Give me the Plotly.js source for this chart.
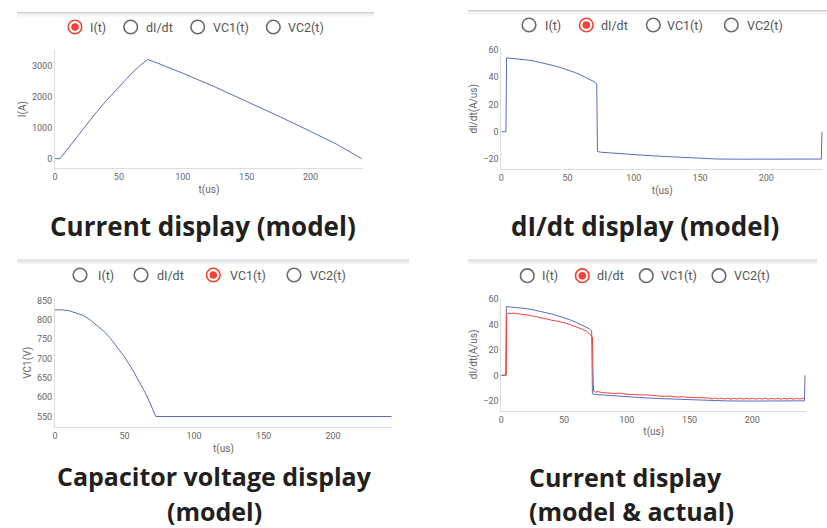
<!DOCTYPE html>
<html>
<head>
<meta charset="utf-8">
<script src="https://cdn.plot.ly/plotly-3.0.1.min.js"></script>
<style>html,body{margin:0;padding:0;background:#fff;}#chart{width:827px;height:528px;}</style>
</head>
<body>
<div id="chart"></div>
<script>
// ---------- data ----------
// Panel 1: current I(t) (model)
const currentT = [0, 4, 10, 20, 30, 40, 50, 60, 66, 72.5, 80, 100, 125, 150, 175, 200, 220, 240];
const currentA = [0, 0, 322, 853, 1375, 1870, 2330, 2755, 2990, 3205, 3090, 2760, 2320, 1860, 1375, 880, 475, 0];

// Panel 2 / 4: dI/dt model
const didtT = [0, 3.5, 4, 10, 15, 20, 25, 30, 35, 40, 45, 50, 55, 60, 65, 70, 72, 72.6, 75, 80, 90, 100, 110, 125, 140, 150, 163, 164, 180, 200, 220, 240, 241.5, 242];
const didtModel = [0, 0, 54, 53.5, 53.1, 52.4, 51.6, 50.6, 49.5, 48.2, 46.8, 45.3, 43.5, 41.5, 39.3, 36.6, 35.0, -14.5, -15, -15.4, -16.2, -16.8, -17.4, -18.2, -18.8, -19.3, -19.6, -20.0, -20.1, -20.2, -20.1, -20.0, -20.0, 0];

// Panel 3: capacitor voltage VC1(t)
const vcT = [0, 5, 10, 15, 20, 25, 30, 35, 40, 45, 50, 55, 60, 65, 67.5, 70, 72.5, 242];
const vcV = [826, 826, 824, 819, 812, 801, 787, 771, 752, 729, 704, 676, 645, 611, 592, 573, 550, 550];

// Panel 4: dI/dt actual (measured)
const actualT = [0, 3.5, 4, 4.2, 5, 8, 10, 12, 15, 18, 20, 22, 25, 28, 30, 33, 35, 38, 40, 43, 45, 48, 50, 53, 55, 58, 60, 63, 65, 68, 70, 72, 72.6, 73.2, 73.6, 75, 77, 80, 85, 90, 95, 100, 105, 110, 115, 120, 125, 130, 135, 140, 145, 150, 155, 160, 163, 165, 168, 170, 173, 175, 178, 180, 183, 185, 188, 190, 193, 195, 198, 200, 203, 205, 208, 210, 213, 215, 218, 220, 223, 225, 228, 230, 233, 235, 238, 240, 242];
const actualV = [0, 0, 0.3, 47.5, 48.8, 48.6, 48.9, 48.5, 48.2, 47.9, 47.4, 47.3, 46.5, 46.3, 45.5, 45.2, 44.5, 44.0, 43.3, 42.9, 42.3, 41.7, 41.3, 40.5, 39.8, 39.0, 38.0, 37.2, 36.0, 34.6, 32.8, 30.8, 30.2, -5, -12.5, -13.2, -12.8, -13.5, -13.9, -14.2, -14.0, -14.8, -15.0, -15.4, -15.2, -15.9, -16.2, -16.5, -16.3, -17.0, -16.9, -17.4, -17.6, -17.8, -18.1, -17.7, -18.6, -17.9, -18.5, -17.9, -18.6, -18.0, -18.7, -18.0, -18.6, -18.0, -18.7, -18.1, -18.6, -18.0, -18.7, -18.1, -18.6, -18.0, -18.7, -18.1, -18.6, -18.0, -18.7, -18.1, -18.6, -18.0, -18.7, -18.1, -18.6, -18.0, -18.2];

const radioLabels = ['I(t)', 'dI/dt', 'VC1(t)', 'VC2(t)'];
const xTitle = 't(us)';
const yTitles = ['I(A)', 'dI/dt(A/us)', 'VC1(V)', 'dI/dt(A/us)'];
const captionLines = ['Current display (model)', 'dI/dt display (model)', 'Capacitor voltage display', '(model)', 'Current display', '(model & actual)'];

// ---------- layout helpers ----------
const W = 827, H = 528;
const px = v => v / W;
const py = v => 1 - v / H;
const BLUE = '#5c6bc0';
const RED = '#f44336';
const SEL = '#f44336';
const GREY = '#6a6a6a';

function axisBase(extra) {
  return Object.assign({
    showline: true, linecolor: '#dddddd', linewidth: 1,
    showgrid: false, zeroline: false, ticks: '',
    tickfont: {family: 'Roboto, sans-serif', size: 9, color: '#666'},
    fixedrange: true
  }, extra);
}
function titleObj(t, standoff) {
  return {text: t, font: {family: 'Roboto, sans-serif', size: 10, color: '#666'}, standoff: standoff};
}

const panels = [
  {x0: 55, x1: 363, yTop: 50, yBot: 168.3, xr: [0, 241], yr: [-310, 3510], dy: 1000},
  {x0: 501.3, x1: 823.3, yTop: 48.3, yBot: 169.3, xr: [0, 243], yr: [-27.5, 61], dy: 20},
  {x0: 55, x1: 392, yTop: 298.3, yBot: 427.3, xr: [0, 242.4], yr: [522, 856], dy: 50},
  {x0: 501.3, x1: 806.3, yTop: 297.7, yBot: 411, xr: [0, 243], yr: [-28, 61], dy: 20}
];

const layout = {
  width: W, height: H,
  margin: {l: 0, r: 0, t: 0, b: 0, pad: 0},
  paper_bgcolor: '#ffffff', plot_bgcolor: '#ffffff',
  showlegend: false,
  font: {family: 'Roboto, sans-serif', color: '#666'},
  shapes: [], annotations: []
};

panels.forEach((p, i) => {
  const n = i === 0 ? '' : String(i + 1);
  layout['xaxis' + n] = axisBase({
    domain: [px(p.x0), px(p.x1)], range: p.xr, dtick: 50, tick0: 0,
    anchor: 'y' + n, title: titleObj(xTitle, 4)
  });
  layout['yaxis' + n] = axisBase({
    domain: [py(p.yBot), py(p.yTop)], range: p.yr, dtick: p.dy, tick0: 0,
    anchor: 'x' + n, title: titleObj(yTitles[i], 3)
  });
});

// top shadow bars of each card
[[17, 374, 12], [468, 827, 10], [17, 409, 259.5], [468, 817, 259.5]].forEach(b => {
  [[0, 1, '#cfcfcf'], [1, 2.5, '#e4e4e4'], [2.5, 4.5, '#f3f3f3']].forEach(s => {
    layout.shapes.push({type: 'rect', xref: 'paper', yref: 'paper', layer: 'below',
      x0: px(b[0]), x1: px(b[1]), y0: py(b[2] + s[0]), y1: py(b[2] + s[1]),
      line: {width: 0}, fillcolor: s[2]});
  });
});

// radio button rows
const radios = [
  {y: 27, c: [75, 130.7, 197.7, 273.3], l: [88, 144, 210.7, 286], sel: 0},
  {y: 25, c: [529, 586.3, 653.3, 731.3], l: [542.7, 599.3, 664.7, 744.7], sel: 1},
  {y: 275, c: [80, 141, 213.3, 294], l: [95.7, 155.3, 227.7, 308.3], sel: 2},
  {y: 275.7, c: [527.3, 582.3, 646.3, 719], l: [540, 594.7, 659, 731.7], sel: 1}
];
radios.forEach(r => {
  radioLabels.forEach((lab, k) => {
    const on = k === r.sel;
    const R = 6.8;
    layout.shapes.push({type: 'circle', xref: 'paper', yref: 'paper',
      x0: px(r.c[k] - R), x1: px(r.c[k] + R), y0: py(r.y + R), y1: py(r.y - R),
      line: {color: on ? SEL : GREY, width: 1.6}, fillcolor: 'rgba(0,0,0,0)'});
    if (on) {
      const r2 = 3.8;
      layout.shapes.push({type: 'circle', xref: 'paper', yref: 'paper',
        x0: px(r.c[k] - r2), x1: px(r.c[k] + r2), y0: py(r.y + r2), y1: py(r.y - r2),
        line: {width: 0}, fillcolor: SEL});
    }
    layout.annotations.push({xref: 'paper', yref: 'paper', x: px(r.l[k]), y: py(r.y),
      xanchor: 'left', yanchor: 'middle', showarrow: false, text: lab,
      font: {family: 'Roboto, sans-serif', size: 12.5, color: '#555'}});
  });
});

// captions: one annotation per line
const capPos = [
  [202.5, 226, 'center', 26], [644.5, 226, 'center', 26],
  [214, 476, 'center', 25], [214, 510.5, 'center', 25],
  [527, 477, 'left', 25], [527, 510.5, 'left', 25]
];
captionLines.forEach((c, i) => {
  const p = capPos[i];
  layout.annotations.push({xref: 'paper', yref: 'paper', x: px(p[0]), y: py(p[1]),
    xanchor: p[2], yanchor: 'middle', showarrow: false, text: '<b>' + c.replace('&', '&amp;') + '</b>',
    font: {family: '"Open Sans", sans-serif', size: p[3], color: '#231f20'}});
});

const line = c => ({color: c, width: 1});
const traces = [
  {x: currentT, y: currentA, xaxis: 'x', yaxis: 'y', mode: 'lines', line: line(BLUE), name: 'I(t)'},
  {x: didtT, y: didtModel, xaxis: 'x2', yaxis: 'y2', mode: 'lines', line: line(BLUE), name: 'dI/dt model'},
  {x: vcT, y: vcV, xaxis: 'x3', yaxis: 'y3', mode: 'lines', line: line(BLUE), name: 'VC1(t)'},
  {x: didtT, y: didtModel, xaxis: 'x4', yaxis: 'y4', mode: 'lines', line: line(BLUE), name: 'dI/dt model'},
  {x: actualT, y: actualV, xaxis: 'x4', yaxis: 'y4', mode: 'lines', line: line(RED), name: 'dI/dt actual'}
];

Plotly.newPlot('chart', traces, layout, {staticPlot: true, displayModeBar: false});
</script>
</body>
</html>
